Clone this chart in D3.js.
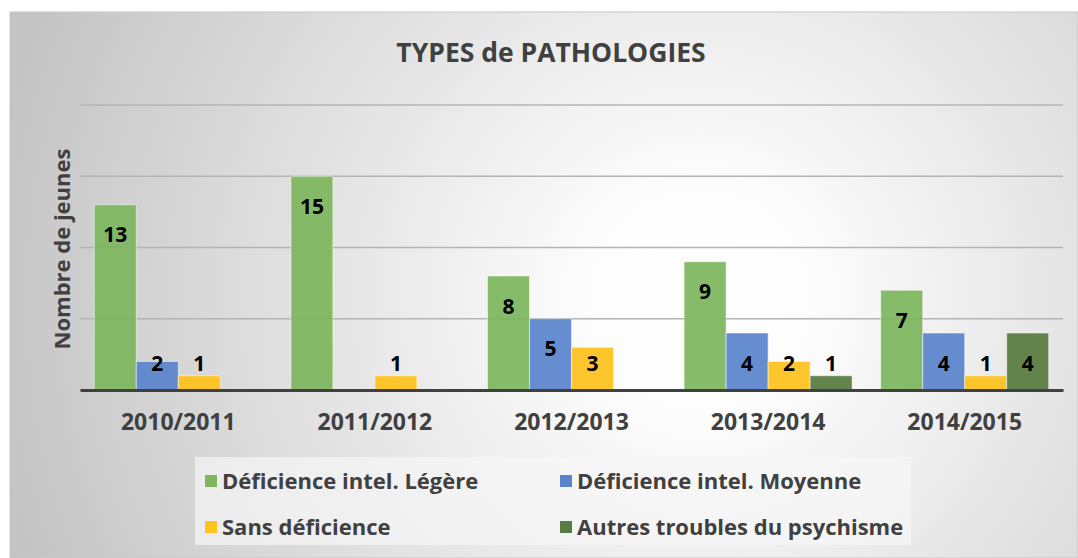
<!DOCTYPE html>
<meta charset="utf-8">
<style>
body { margin: 0; background: #fff; }
text { font-family: "Open Sans", sans-serif; font-weight: bold; }
</style>
<body>
<script src="https://cdn.jsdelivr.net/npm/d3@7"></script>
<script>

// data
var years = ["2010/2011", "2011/2012", "2012/2013", "2013/2014", "2014/2015"];
var series = ["Déficience intel. Légère", "Déficience intel. Moyenne", "Sans déficience", "Autres troubles du psychisme"];
var legere  = [13, 15, 8, 9, 7];
var moyenne = [2, null, 5, 4, 4];
var sans    = [1, 1, 3, 2, 1];
var autres  = [null, null, null, 1, 4];
var yTicks  = [0, 5, 10, 15, 20];
var colors  = ["#7db65e", "#5a84cb", "#fdc21c", "#577b40"];

var values = [legere, moyenne, sans, autres];

var W = 1078, H = 558;
var margin = {top: 105, right: 15, bottom: 168, left: 80},
    width = 1063 - margin.left,
    height = 390 - margin.top;

var svg = d3.select("body").append("svg")
    .attr("width", W)
    .attr("height", H);

// background with a soft radial gradient
var defs = svg.append("defs");
var grad = defs.append("radialGradient")
    .attr("id", "bg")
    .attr("gradientUnits", "userSpaceOnUse")
    .attr("cx", 700).attr("cy", 300).attr("r", 720);
grad.append("stop").attr("offset", "0").attr("stop-color", "#ffffff");
grad.append("stop").attr("offset", "0.15").attr("stop-color", "#fdfdfd");
grad.append("stop").attr("offset", "1").attr("stop-color", "#c4c4c4");

svg.append("rect")
    .attr("x", 10).attr("y", 12)
    .attr("width", W - 10).attr("height", H - 12)
    .attr("fill", "url(#bg)")
    .attr("stroke", "#c8c8c8");

var g = svg.append("g")
    .attr("transform", "translate(" + margin.left + "," + margin.top + ")");

var x0 = d3.scaleBand().domain(years).range([0, width]).paddingInner(0.1455).paddingOuter(0.0727);
var x1 = d3.scaleBand().domain(d3.range(series.length)).range([0, x0.bandwidth()]);
var y = d3.scaleLinear().domain([0, 20]).range([height, 0]);

// gridlines
g.append("g")
    .selectAll("line")
    .data(yTicks.slice(1))
  .enter().append("line")
    .attr("x1", 0).attr("x2", width)
    .attr("y1", function(d) { return y(d); })
    .attr("y2", function(d) { return y(d); })
    .attr("stroke", "#b4b4b4")
    .attr("stroke-width", 1.3);

// bars
var rows = [];
values.forEach(function(arr, s) {
  arr.forEach(function(v, i) {
    if (v != null) rows.push({year: years[i], s: s, v: v});
  });
});

g.selectAll(".bar")
    .data(rows)
  .enter().append("rect")
    .attr("class", "bar")
    .attr("x", function(d) { return x0(d.year) + x1(d.s); })
    .attr("width", x1.bandwidth())
    .attr("y", function(d) { return y(d.v); })
    .attr("height", function(d) { return height - y(d.v); })
    .attr("fill", function(d) { return colors[d.s]; })
    .attr("fill-opacity", 0.93)
    .attr("stroke", "#ffffff")
    .attr("stroke-opacity", 0.5)
    .attr("stroke-width", 1);

// value labels
g.selectAll(".val")
    .data(rows)
  .enter().append("text")
    .attr("class", "val")
    .attr("x", function(d) { return x0(d.year) + x1(d.s) + x1.bandwidth() / 2; })
    .attr("y", function(d) { return Math.min(y(d.v) + 30, height - 27); })
    .attr("dy", "0.36em")
    .attr("text-anchor", "middle")
    .attr("font-size", 21)
    .attr("fill", "#000")
    .text(function(d) { return d.v; });

// baseline + category axis
var xAxis = g.append("g")
    .attr("transform", "translate(0," + height + ")")
    .call(d3.axisBottom(x0).tickSize(0).tickPadding(24));
xAxis.select(".domain").attr("stroke", "#404040").attr("stroke-width", 3);
xAxis.selectAll("text")
    .attr("font-size", 23)
    .attr("fill", "#404040")
    .style("font-family", "'Open Sans', sans-serif")
    .style("font-weight", "bold");

// title
svg.append("text")
    .attr("x", 551).attr("y", 52)
    .attr("dy", "0.36em")
    .attr("text-anchor", "middle")
    .attr("font-size", 26.5)
    .attr("fill", "#404040")
    .text("TYPES de PATHOLOGIES");

// y axis title
svg.append("text")
    .attr("transform", "translate(62,249) rotate(-90)")
    .attr("dy", "0.36em")
    .attr("text-anchor", "middle")
    .attr("font-size", 22)
    .attr("fill", "#404040")
    .text("Nombre de jeunes");

// legend
svg.append("rect")
    .attr("x", 195).attr("y", 457)
    .attr("width", 716).attr("height", 88)
    .attr("fill", "#f7f7f7")
    .attr("fill-opacity", 0.7);

var legX = [205, 560], legY = [481, 527];
var leg = svg.selectAll(".leg")
    .data(series)
  .enter().append("g")
    .attr("class", "leg")
    .attr("transform", function(d, i) {
      return "translate(" + legX[i % 2] + "," + legY[Math.floor(i / 2)] + ")";
    });
leg.append("rect")
    .attr("x", 0).attr("y", -6)
    .attr("width", 12).attr("height", 12)
    .attr("fill", function(d, i) { return colors[i]; });
leg.append("text")
    .attr("x", 17)
    .attr("dy", "0.36em")
    .attr("font-size", 22)
    .attr("fill", "#404040")
    .text(function(d) { return d; });

</script>
</body>
